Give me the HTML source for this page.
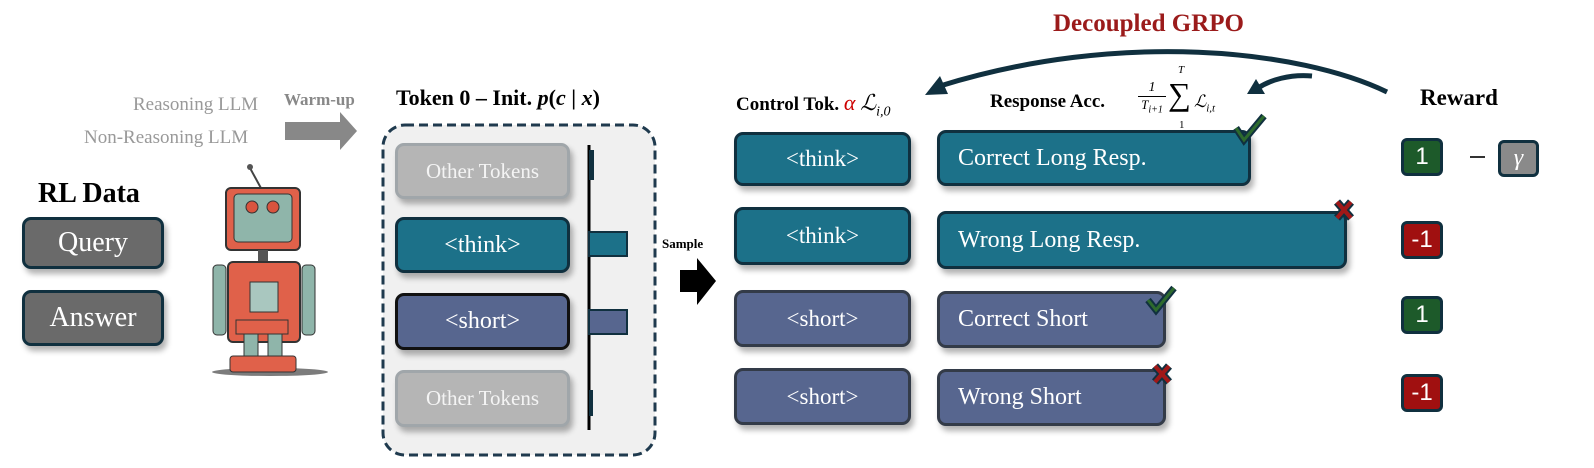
<!DOCTYPE html>
<html><head><meta charset="utf-8"><style>
body{margin:0;width:1594px;height:468px;background:#fff;position:relative;overflow:hidden;font-family:"Liberation Serif",serif}
.a{position:absolute}
.b{position:absolute;box-sizing:border-box;border:3px solid #10303f;border-radius:9px;color:#fff;display:flex;align-items:center;box-shadow:3px 5px 6px rgba(0,0,0,.3)}
.t{background:#1c7189}.s{background:#57668f;border-color:#333b48}.g{background:#6a6a6a;border-color:#10303f}
.o{background:#b5b5b5;border-color:#a0a6aa;color:#f4f4f4}
.r{position:absolute;box-sizing:border-box;border:3px solid #10303f;border-radius:6px;color:#fff;font-family:"Liberation Sans",sans-serif;font-size:24px;display:flex;align-items:center;justify-content:center}
</style></head><body>
<svg class="a" style="left:0;top:0" width="1594" height="468">
<polygon points="285,122 340,122 340,112 357,131 340,150 340,140 285,140" fill="#888"/>
<polygon points="680,270 697,270 697,258 716,281 697,305 697,292 680,292" fill="#000"/>
<rect x="383" y="125" width="272" height="330" rx="22" fill="#f0f0f0" stroke="#1f3a4e" stroke-width="3" stroke-dasharray="9,5"/>
<line x1="589" y1="145" x2="589" y2="430" stroke="#000" stroke-width="3"/>
<rect x="589" y="150" width="5" height="30" fill="#10303f"/>
<rect x="589" y="232" width="38" height="24" fill="#1c7189" stroke="#10303f" stroke-width="2"/>
<rect x="589" y="310" width="38" height="24" fill="#57668f" stroke="#10303f" stroke-width="2"/>
<rect x="589" y="390" width="4" height="26" fill="#10303f"/>
<ellipse cx="270" cy="372" rx="58" ry="4" fill="#444" opacity=".7"/>
<line x1="250" y1="168" x2="262" y2="190" stroke="#444" stroke-width="2"/><circle cx="250" cy="167" r="3" fill="#555"/>
<rect x="226" y="188" width="74" height="62" rx="5" fill="#e0614a" stroke="#333" stroke-width="2"/>
<rect x="234" y="194" width="58" height="48" rx="4" fill="#8fb5aa" stroke="#333"/>
<circle cx="252" cy="207" r="6" fill="#d9543e" stroke="#333"/><circle cx="273" cy="207" r="6" fill="#d9543e" stroke="#333"/>
<rect x="258" y="250" width="10" height="12" fill="#555"/>
<rect x="228" y="262" width="72" height="80" rx="5" fill="#e0614a" stroke="#333" stroke-width="2"/>
<rect x="250" y="282" width="28" height="30" fill="#a9c7bf" stroke="#333"/>
<rect x="213" y="265" width="13" height="70" rx="4" fill="#8fb5aa" stroke="#333"/>
<rect x="302" y="265" width="13" height="70" rx="4" fill="#8fb5aa" stroke="#333"/>
<rect x="236" y="320" width="52" height="14" fill="#e0614a" stroke="#333"/>
<rect x="244" y="334" width="14" height="28" fill="#8fb5aa" stroke="#333"/>
<rect x="268" y="334" width="14" height="28" fill="#8fb5aa" stroke="#333"/>
<rect x="230" y="356" width="66" height="16" rx="3" fill="#e0614a" stroke="#333"/>
<line x1="1470" y1="157" x2="1485" y2="157" stroke="#333" stroke-width="2"/>
</svg>

<div class="a" style="left:133px;top:94px;font-size:19px;color:#999">Reasoning LLM</div>
<div class="a" style="left:84px;top:127px;font-size:19px;color:#999">Non-Reasoning LLM</div>
<div class="a" style="left:284px;top:90px;font-size:17px;color:#888;font-weight:bold">Warm-up</div>
<div class="a" style="left:396px;top:85px;font-size:22px;font-weight:bold">Token 0 – Init. <i>p</i>(<i>c</i> | <i>x</i>)</div>
<div class="a" style="left:38px;top:178px;font-size:28px;font-weight:bold">RL Data</div>
<div class="b g" style="left:22px;top:217px;width:142px;height:52px;justify-content:center;font-size:28px">Query</div>
<div class="b g" style="left:22px;top:290px;width:142px;height:56px;justify-content:center;font-size:28px">Answer</div>

<div class="b o" style="left:395px;top:143px;width:175px;height:56px;justify-content:center;font-size:21px">Other Tokens</div>
<div class="b t" style="left:395px;top:217px;width:175px;height:56px;justify-content:center;font-size:24px">&lt;think&gt;</div>
<div class="b s" style="left:395px;top:293px;width:175px;height:57px;justify-content:center;font-size:24px;border-color:#111">&lt;short&gt;</div>
<div class="b o" style="left:395px;top:370px;width:175px;height:57px;justify-content:center;font-size:21px">Other Tokens</div>

<div class="a" style="left:662px;top:236px;font-size:13px;font-weight:bold">Sample</div>

<div class="a" style="left:1053px;top:10px;font-size:25px;font-weight:bold;color:#9b1b1b">Decoupled GRPO</div>
<div class="a" style="left:736px;top:90px;font-size:19px;font-weight:bold">Control Tok. <span style="color:#c00;font-weight:normal;font-style:italic;font-size:22px">α</span> <span style="font-style:italic;font-weight:normal;font-size:22px">ℒ<sub style="font-size:14px">i,0</sub></span></div>
<div class="a" style="left:990px;top:91px;font-size:19px;font-weight:bold">Response Acc.</div>
<div class="a" style="left:1138px;top:80px;font-size:14px;text-align:center;width:28px;font-style:italic">1<div style="border-top:1px solid #000;font-size:13px">T<sub style="font-size:10px">i+1</sub></div></div>
<div class="a" style="left:1168px;top:76px;font-size:32px">∑</div>
<div class="a" style="left:1178px;top:64px;font-size:11px;font-style:italic">T</div>
<div class="a" style="left:1179px;top:119px;font-size:11px">1</div>
<div class="a" style="left:1194px;top:92px;font-size:17px;font-style:italic">ℒ<sub style="font-size:11px">i,t</sub></div>
<div class="a" style="left:1420px;top:85px;font-size:23px;font-weight:bold">Reward</div>

<div class="b t" style="left:734px;top:132px;width:177px;height:54px;justify-content:center;font-size:23px">&lt;think&gt;</div>
<div class="b t" style="left:734px;top:207px;width:177px;height:58px;justify-content:center;font-size:23px">&lt;think&gt;</div>
<div class="b s" style="left:734px;top:290px;width:177px;height:57px;justify-content:center;font-size:23px">&lt;short&gt;</div>
<div class="b s" style="left:734px;top:368px;width:177px;height:57px;justify-content:center;font-size:23px">&lt;short&gt;</div>

<div class="b t" style="left:937px;top:130px;width:314px;height:56px;padding-left:18px;font-size:24px">Correct Long Resp.</div>
<div class="b t" style="left:937px;top:211px;width:410px;height:58px;padding-left:18px;font-size:24px">Wrong Long Resp.</div>
<div class="b s" style="left:937px;top:291px;width:229px;height:57px;padding-left:18px;font-size:24px">Correct Short</div>
<div class="b s" style="left:937px;top:369px;width:229px;height:57px;padding-left:18px;font-size:24px">Wrong Short</div>

<div class="r" style="left:1401px;top:138px;width:42px;height:38px;background:#1d5a2a">1</div>
<div class="r" style="left:1498px;top:140px;width:41px;height:37px;background:#8a8a8a;font-family:'Liberation Serif',serif;font-style:italic">γ</div>
<div class="r" style="left:1401px;top:221px;width:42px;height:38px;background:#a01010">-1</div>
<div class="r" style="left:1401px;top:296px;width:42px;height:38px;background:#1d5a2a">1</div>
<div class="r" style="left:1401px;top:374px;width:42px;height:38px;background:#a01010">-1</div>

<svg class="a" style="left:0;top:0" width="1594" height="468">
<path d="M1387 92 C1300 50 1120 30 940 86" fill="none" stroke="#10303f" stroke-width="5"/>
<polygon points="925,95 940,76 948,94" fill="#10303f"/>
<path d="M1312 76 C1290 74 1270 80 1258 88" fill="none" stroke="#10303f" stroke-width="5"/>
<polygon points="1247,94 1256,79 1265,94" fill="#10303f"/>
<polyline points="1236,128 1244,140 1264,116" fill="none" stroke="#10303f" stroke-width="7"/>
<polyline points="1236,128 1244,140 1264,116" fill="none" stroke="#2d6a2d" stroke-width="3"/>
<polyline points="1148,300 1156,310 1174,288" fill="none" stroke="#10303f" stroke-width="7"/>
<polyline points="1148,300 1156,310 1174,288" fill="none" stroke="#2d6a2d" stroke-width="3"/>
<g stroke="#10303f" stroke-width="8"><line x1="1337" y1="202" x2="1351" y2="218"/><line x1="1351" y1="202" x2="1337" y2="218"/><line x1="1155" y1="366" x2="1169" y2="382"/><line x1="1169" y1="366" x2="1155" y2="382"/></g>
<g stroke="#a01818" stroke-width="4"><line x1="1337" y1="202" x2="1351" y2="218"/><line x1="1351" y1="202" x2="1337" y2="218"/><line x1="1155" y1="366" x2="1169" y2="382"/><line x1="1169" y1="366" x2="1155" y2="382"/></g>
</svg>
</body></html>
